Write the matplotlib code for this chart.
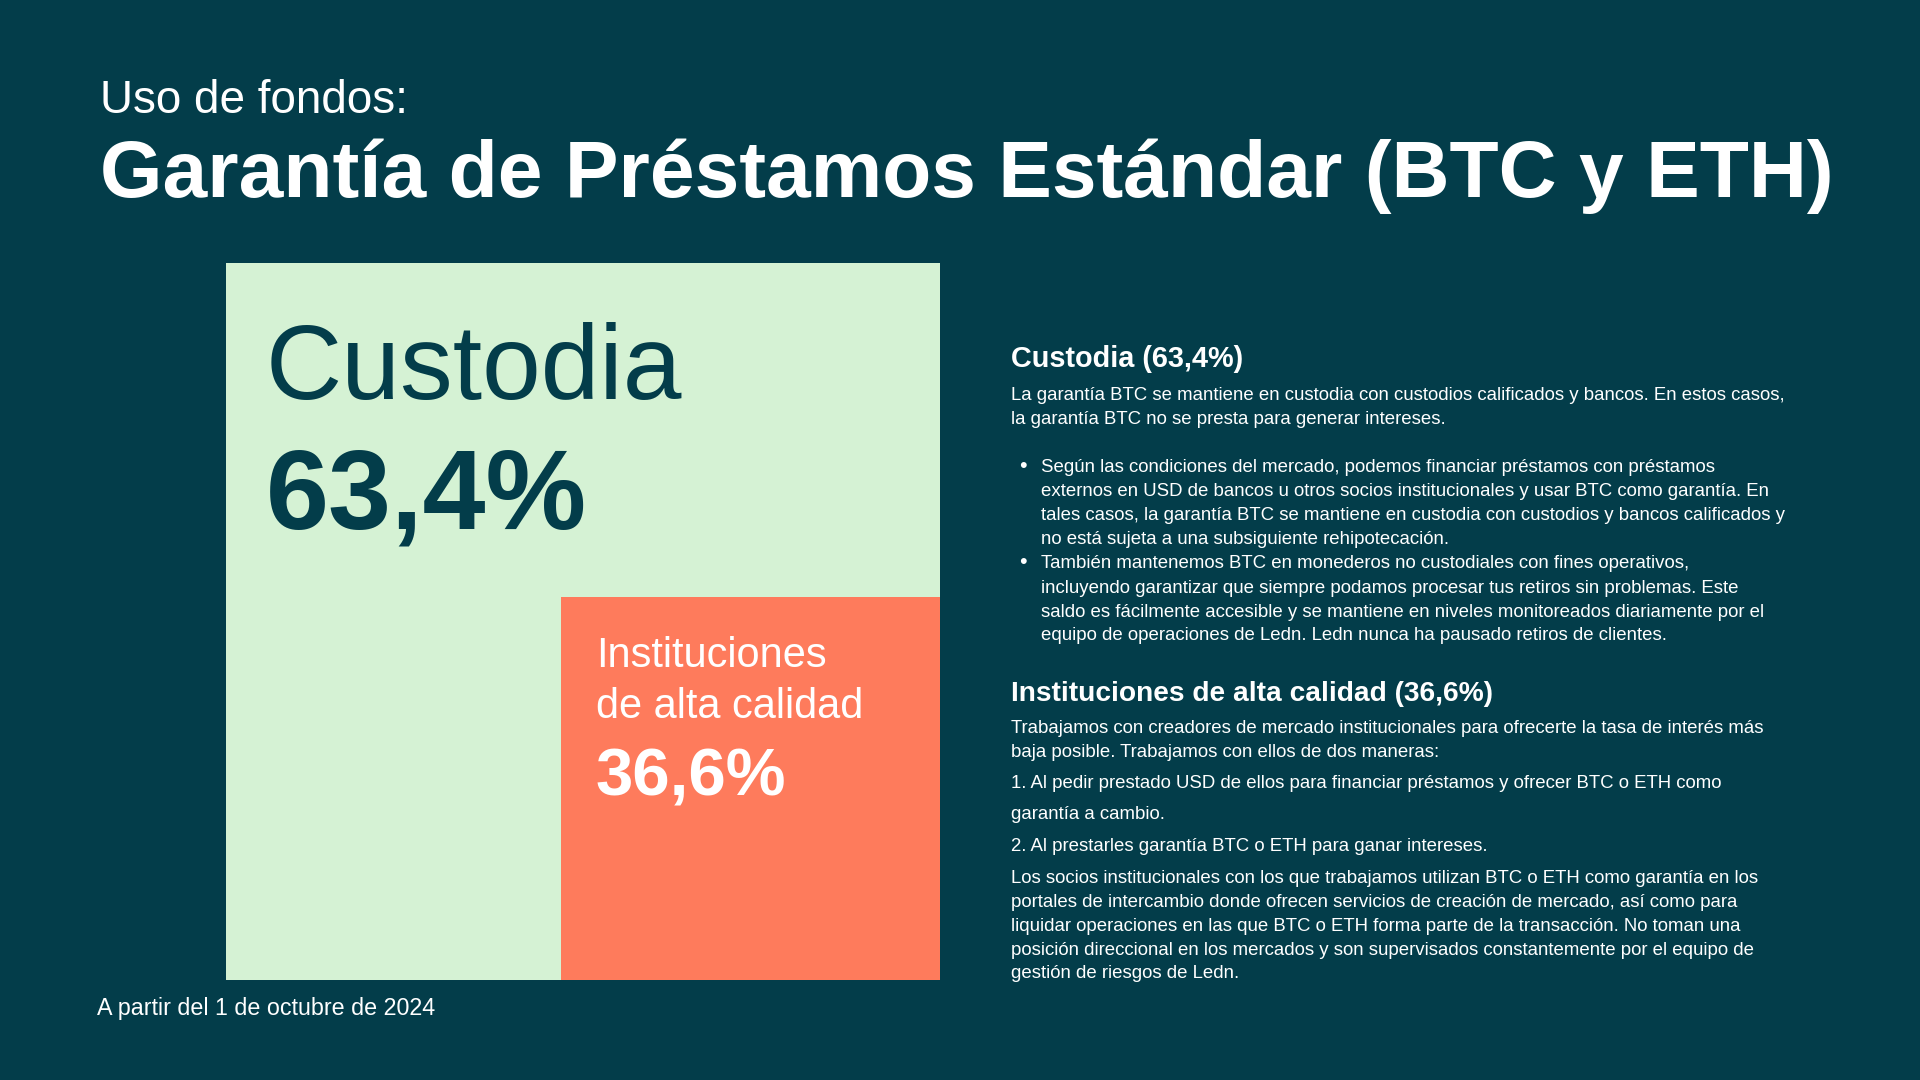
import matplotlib
matplotlib.use("Agg")
import matplotlib.pyplot as plt
from matplotlib.patches import Rectangle

# ---------------- data ----------------
categories = ["Custodia", "Instituciones de alta calidad"]
shares = [63.4, 36.6]
box_label_lines = [["Custodia"], ["Instituciones", "de alta calidad"]]

title_small = "Uso de fondos:"
title_main = "Garantía de Préstamos Estándar (BTC y ETH)"
footer = "A partir del 1 de octubre de 2024"

custodia_intro = [
    "La garantía BTC se mantiene en custodia con custodios calificados y bancos. En estos casos,",
    "la garantía BTC no se presta para generar intereses.",
]
custodia_bullets = [
    ["Según las condiciones del mercado, podemos financiar préstamos con préstamos",
     "externos en USD de bancos u otros socios institucionales y usar BTC como garantía. En",
     "tales casos, la garantía BTC se mantiene en custodia con custodios y bancos calificados y",
     "no está sujeta a una subsiguiente rehipotecación."],
    ["También mantenemos BTC en monederos no custodiales con fines operativos,",
     "incluyendo garantizar que siempre podamos procesar tus retiros sin problemas. Este",
     "saldo es fácilmente accesible y se mantiene en niveles monitoreados diariamente por el",
     "equipo de operaciones de Ledn. Ledn nunca ha pausado retiros de clientes."],
]
inst_lines = [
    "Trabajamos con creadores de mercado institucionales para ofrecerte la tasa de interés más",
    "baja posible. Trabajamos con ellos de dos maneras:",
    "1. Al pedir prestado USD de ellos para financiar préstamos y ofrecer BTC o ETH como",
    "garantía a cambio.",
    "2. Al prestarles garantía BTC o ETH para ganar intereses.",
    "Los socios institucionales con los que trabajamos utilizan BTC o ETH como garantía en los",
    "portales de intercambio donde ofrecen servicios de creación de mercado, así como para",
    "liquidar operaciones en las que BTC o ETH forma parte de la transacción. No toman una",
    "posición direccional en los mercados y son supervisados constantemente por el equipo de",
    "gestión de riesgos de Ledn.",
]


def pct(v):
    return f"{v:.1f}%".replace(".", ",")


# ---------------- style / layout ----------------
BG = "#033d4a"
GREEN = "#d5f2d4"
CORAL = "#fe7b5c"
WHITE = "#ffffff"
FONT = "Liberation Sans"
W, H = 1920, 1080

fig = plt.figure(figsize=(19.2, 10.8), dpi=100)
fig.patch.set_facecolor(BG)
renderer = fig.canvas.get_renderer()

# treemap area (design layout: big box with inset box lower right)
box_left, box_top, box_right, box_bottom = 226, 263, 940, 980
tax = fig.add_axes([box_left / W, 1 - box_bottom / H,
                    (box_right - box_left) / W, (box_bottom - box_top) / H])
tax.set_xlim(0, 1)
tax.set_ylim(0, 1)
tax.axis("off")
tax.set_zorder(1)
inset_x0, inset_h = 0.469, 0.534
tax.add_patch(Rectangle((0, 0), 1, 1, facecolor=GREEN, edgecolor="none"))
tax.add_patch(Rectangle((inset_x0, 0), 1 - inset_x0, inset_h,
                        facecolor=CORAL, edgecolor="none"))

# overlay axes in pixel coordinates for all text
ax = fig.add_axes([0, 0, 1, 1])
ax.set_xlim(0, W)
ax.set_ylim(H, 0)
ax.axis("off")
ax.set_zorder(2)
ax.patch.set_alpha(0)


def fit(texts, targets, iters=3):
    for _ in range(iters):
        w = sum(t.get_window_extent(renderer).width for t in texts)
        f = sum(targets) / w
        for t in texts:
            t.set_fontsize(t.get_fontsize() * f)


def put(a, x, y, s, color=WHITE, weight="normal", size=14):
    return a.text(x, y, s, color=color, fontsize=size, fontweight=weight,
                  family=FONT, ha="left", va="baseline")


# titles
t = put(ax, 100, 113, title_small, size=36)
fit([t], [308])
t = put(ax, 100, 197, title_main, weight="bold", size=60)
fit([t], [1733])
t = put(ax, 97, 1015, footer, size=18)
fit([t], [338])

# box labels
t = put(ax, 266, 399, box_label_lines[0][0], color=BG, size=78)
fit([t], [417])
t = put(ax, 266, 528, pct(shares[0]), color=BG, weight="bold", size=80)
fit([t], [321])
lab = [put(ax, 596, 667, box_label_lines[1][0], size=30),
       put(ax, 596, 718, box_label_lines[1][1], size=30)]
fit(lab, [232, 267])
t = put(ax, 596, 796, pct(shares[1]), weight="bold", size=46)
fit([t], [191])

# right column
h1 = put(ax, 1011, 367, f"{categories[0]} ({pct(shares[0])})", weight="bold", size=20)
fit([h1], [232])
h2 = put(ax, 1011, 701, f"{categories[1]} ({pct(shares[1])})", weight="bold", size=20)
fit([h2], [482])

body, targets = [], []
for s, y, r in zip(custodia_intro, [400, 424], [1787, 1437]):
    body.append(put(ax, 1011, y, s)); targets.append(r - 1011)
b_base = [[472, 496, 520, 544], [568, 593, 617, 640]]
b_right = [[1729, 1767, 1789, 1453], [1696, 1745, 1769, 1675]]
bullets = []
for lines, ys, rs in zip(custodia_bullets, b_base, b_right):
    bullets.append(put(ax, 1019, ys[0], "•"))
    for s, y, r in zip(lines, ys, rs):
        body.append(put(ax, 1041, y, s)); targets.append(r - 1041)
i_base = [733, 757, 788, 819, 851, 883, 907, 931, 955, 978]
i_right = [1770, 1439, 1719, 1164, 1478, 1756, 1753, 1737, 1770, 1241]
for s, y, r in zip(inst_lines, i_base, i_right):
    body.append(put(ax, 1011, y, s)); targets.append(r - 1011)
fit(body, targets)
for b in bullets:
    b.set_fontsize(body[0].get_fontsize() * 1.15)

fig.savefig("out.png", dpi=100, facecolor=BG)
